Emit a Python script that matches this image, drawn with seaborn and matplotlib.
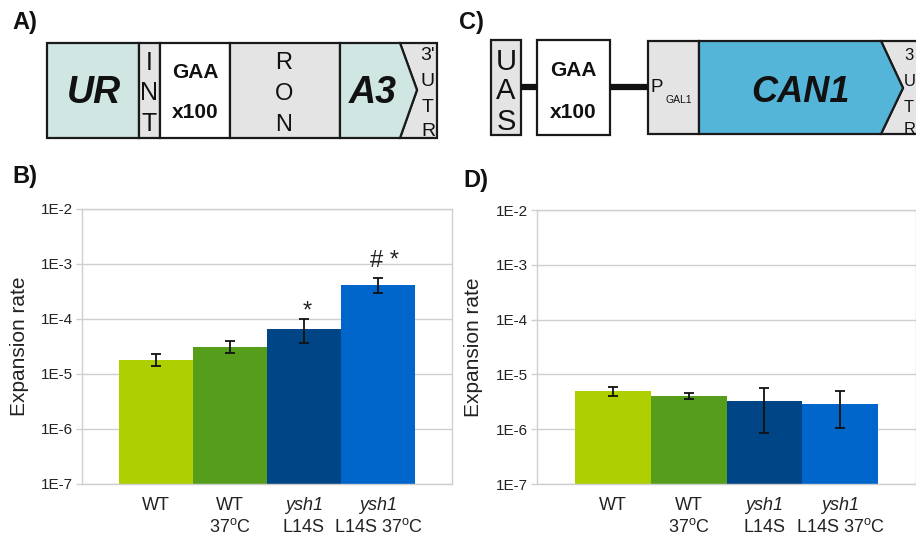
import numpy as np
import pandas as pd
import matplotlib
matplotlib.use("Agg")
import matplotlib.pyplot as plt
import seaborn as sns
from matplotlib.patches import Rectangle, Polygon
from matplotlib.transforms import blended_transform_factory

# ---------------- data ----------------
strains = ["WT", "WT 37C", "ysh1 L14S", "ysh1 L14S 37C"]
line1 = ["WT", "WT", "ysh1", "ysh1"]
line1_italic = [False, False, True, True]
line2 = ["", "37$^{\\mathrm{o}}$C", "L14S", "L14S 37$^{\\mathrm{o}}$C"]
bar_colors = ["#aecf00", "#579d1c", "#004586", "#0066cc"]

rate_B = [1.8e-5, 3.15e-5, 6.6e-5, 4.2e-4]
err_lo_B = [1.38e-5, 2.4e-5, 3.6e-5, 2.97e-4]
err_hi_B = [2.35e-5, 3.95e-5, 9.8e-5, 5.6e-4]
marks_B = ["", "", "*", "# *"]
mark_y_B = [None, None, 8.6e-5, 7.2e-4]

rate_D = [5.0e-6, 4.0e-6, 3.25e-6, 2.9e-6]
err_lo_D = [4.1e-6, 3.6e-6, 8.5e-7, 1.04e-6]
err_hi_D = [6.0e-6, 4.5e-6, 5.7e-6, 4.95e-6]

yticks = [1e-7, 1e-6, 1e-5, 1e-4, 1e-3, 1e-2]
ytick_labels = ["1E-7", "1E-6", "1E-5", "1E-4", "1E-3", "1E-2"]

# ---------------- style ----------------
sns.set_style("white")
plt.rcParams["font.family"] = ["Liberation Sans", "DejaVu Sans"]
plt.rcParams["mathtext.fontset"] = "custom"
plt.rcParams["mathtext.rm"] = "Liberation Sans"
plt.rcParams["mathtext.it"] = "Liberation Sans:italic"
plt.rcParams["mathtext.bf"] = "Liberation Sans:bold"

W, H = 916, 538
fig = plt.figure(figsize=(W / 100, H / 100), dpi=100)

GRID = "#cfcfcf"
TXT = "#222222"


def px_axes(l, t, r, b):
    return fig.add_axes([l / W, 1 - b / H, (r - l) / W, (b - t) / H])


def bar_panel(ax, rates, lo, hi):
    df = pd.DataFrame({"strain": strains, "rate": rates})
    sns.barplot(data=df, x="strain", y="rate", hue="strain", palette=bar_colors,
                width=1.0, saturation=1, errorbar=None, legend=False,
                linewidth=0, log_scale=True, ax=ax, zorder=2)
    rates_a = np.array(rates)
    yerr = np.vstack([rates_a - np.array(lo), np.array(hi) - rates_a])
    ax.errorbar(np.arange(len(rates)), rates_a, yerr=yerr, fmt="none",
                ecolor="#111111", elinewidth=1.3, capsize=3.5, capthick=1.3, zorder=4)
    ax.set_yscale("log")
    ax.set_ylim(1e-7, 1e-2)
    ax.set_xlim(-1, 4)
    ax.set_yticks(yticks)
    ax.set_yticklabels(ytick_labels)
    ax.minorticks_off()
    ax.yaxis.grid(True, color=GRID, linewidth=1.0, zorder=0)
    ax.set_axisbelow(True)
    for s in ax.spines.values():
        s.set_color(GRID)
        s.set_linewidth(1.0)
    ax.tick_params(axis="y", length=4.5, width=1.0, color=GRID, pad=2,
                   labelsize=11, labelcolor=TXT, left=True)
    ax.tick_params(axis="x", length=0, labelbottom=False)
    ax.set_xlabel("")
    ax.set_ylabel("Expansion rate", fontsize=15, color=TXT)
    ax.yaxis.set_label_coords(-0.142, 0.5)
    tr = blended_transform_factory(ax.transData, fig.transFigure)
    for i in range(len(strains)):
        ax.text(i, 1 - 506 / H, line1[i], transform=tr, ha="center", va="center",
                fontsize=13, color=TXT, style="italic" if line1_italic[i] else "normal")
        if line2[i]:
            ax.text(i, 1 - 527 / H, line2[i], transform=tr, ha="center", va="center",
                    fontsize=13, color=TXT)


axB = px_axes(82, 209, 452, 484)
bar_panel(axB, rate_B, err_lo_B, err_hi_B)
for i, m in enumerate(marks_B):
    if m:
        axB.text(i + (0.09 if len(m) > 1 else 0.05), mark_y_B[i], m, ha="center",
                 va="bottom", fontsize=17, color=TXT)

axD = px_axes(537, 210, 916, 484)
bar_panel(axD, rate_D, err_lo_D, err_hi_D)

# ---------------- diagrams (pixel overlay) ----------------
ov = fig.add_axes([0, 0, 1, 1], zorder=10)
ov.set_xlim(0, W)
ov.set_ylim(H, 0)
ov.axis("off")
ov.patch.set_alpha(0)

EDGE = "#1a1a1a"
TEAL = "#cfe6e3"
GREY = "#e4e4e4"
CANB = "#55b5d8"


def rect(x0, y0, x1, y1, fc):
    ov.add_patch(Rectangle((x0, y0), x1 - x0, y1 - y0, facecolor=fc, edgecolor=EDGE, lw=1.6))


def poly(pts, fc):
    ov.add_patch(Polygon(pts, closed=True, facecolor=fc, edgecolor=EDGE, lw=1.6, joinstyle="miter"))


def txt(x, y, s, size, **kw):
    ov.text(x, y, s, fontsize=size, ha=kw.pop("ha", "center"), va=kw.pop("va", "center"),
            color=kw.pop("color", "#111111"), **kw)


# Panel A
t, b = 43, 138
rect(47, t, 139, b, TEAL)
rect(139, t, 160, b, GREY)
rect(160, t, 230, b, "white")
rect(230, t, 340, b, GREY)
poly([(400, t), (437, t), (437, b), (400, b), (417, 90)], GREY)
poly([(340, t), (400, t), (417, 90), (400, b), (340, b)], TEAL)
txt(94, 93, "UR", 27, weight="bold", style="italic")
for ch, yy in zip("INT", [63, 93, 124]):
    txt(149.5, yy, ch, 18)
txt(195, 72, "GAA", 15, weight="bold")
txt(195, 113, "x100", 15, weight="bold")
for ch, yy in zip("RON", [63, 94, 125]):
    txt(284, yy, ch, 17)
txt(373, 93, "A3", 27, weight="bold", style="italic")
for ch, yy in zip(["3'", "U", "T", "R"], [56, 82, 107, 132]):
    txt(428, yy, ch, 14)

# Panel C
t2, b2 = 40, 135
ov.plot([521, 537], [87, 87], color="#111111", lw=4.5, solid_capstyle="butt")
ov.plot([610, 648], [87, 87], color="#111111", lw=4.5, solid_capstyle="butt")
rect(491, t2, 521, b2, GREY)
rect(537, t2, 610, b2, "white")
rect(648, t2 + 1, 699, b2 - 1, GREY)
poly([(881, t2 + 1), (935, t2 + 1), (935, b2 - 1), (881, b2 - 1), (903, 88)], GREY)
poly([(699, t2 + 1), (881, t2 + 1), (903, 88), (881, b2 - 1), (699, b2 - 1)], CANB)
for ch, yy in zip("UAS", [62, 91, 122]):
    txt(506, yy, ch, 21)
txt(573, 70, "GAA", 15, weight="bold")
txt(573, 112, "x100", 15, weight="bold")
txt(650, 88, "P", 13.5, ha="left")
txt(665, 100, "GAL1", 7.5, ha="left")
txt(800, 93, "CAN1", 26, weight="bold", style="italic")
for ch, yy in zip(["3", "U", "T", "R"], [56, 82, 107, 130]):
    txt(904, yy, ch, 12, ha="left")

# panel letters
for s, x, y in [("A)", 12, 22), ("B)", 12, 177), ("C)", 459, 22), ("D)", 463, 181)]:
    txt(x, y, s, 17, weight="bold", ha="left")

fig.savefig("out.png", dpi=100)
